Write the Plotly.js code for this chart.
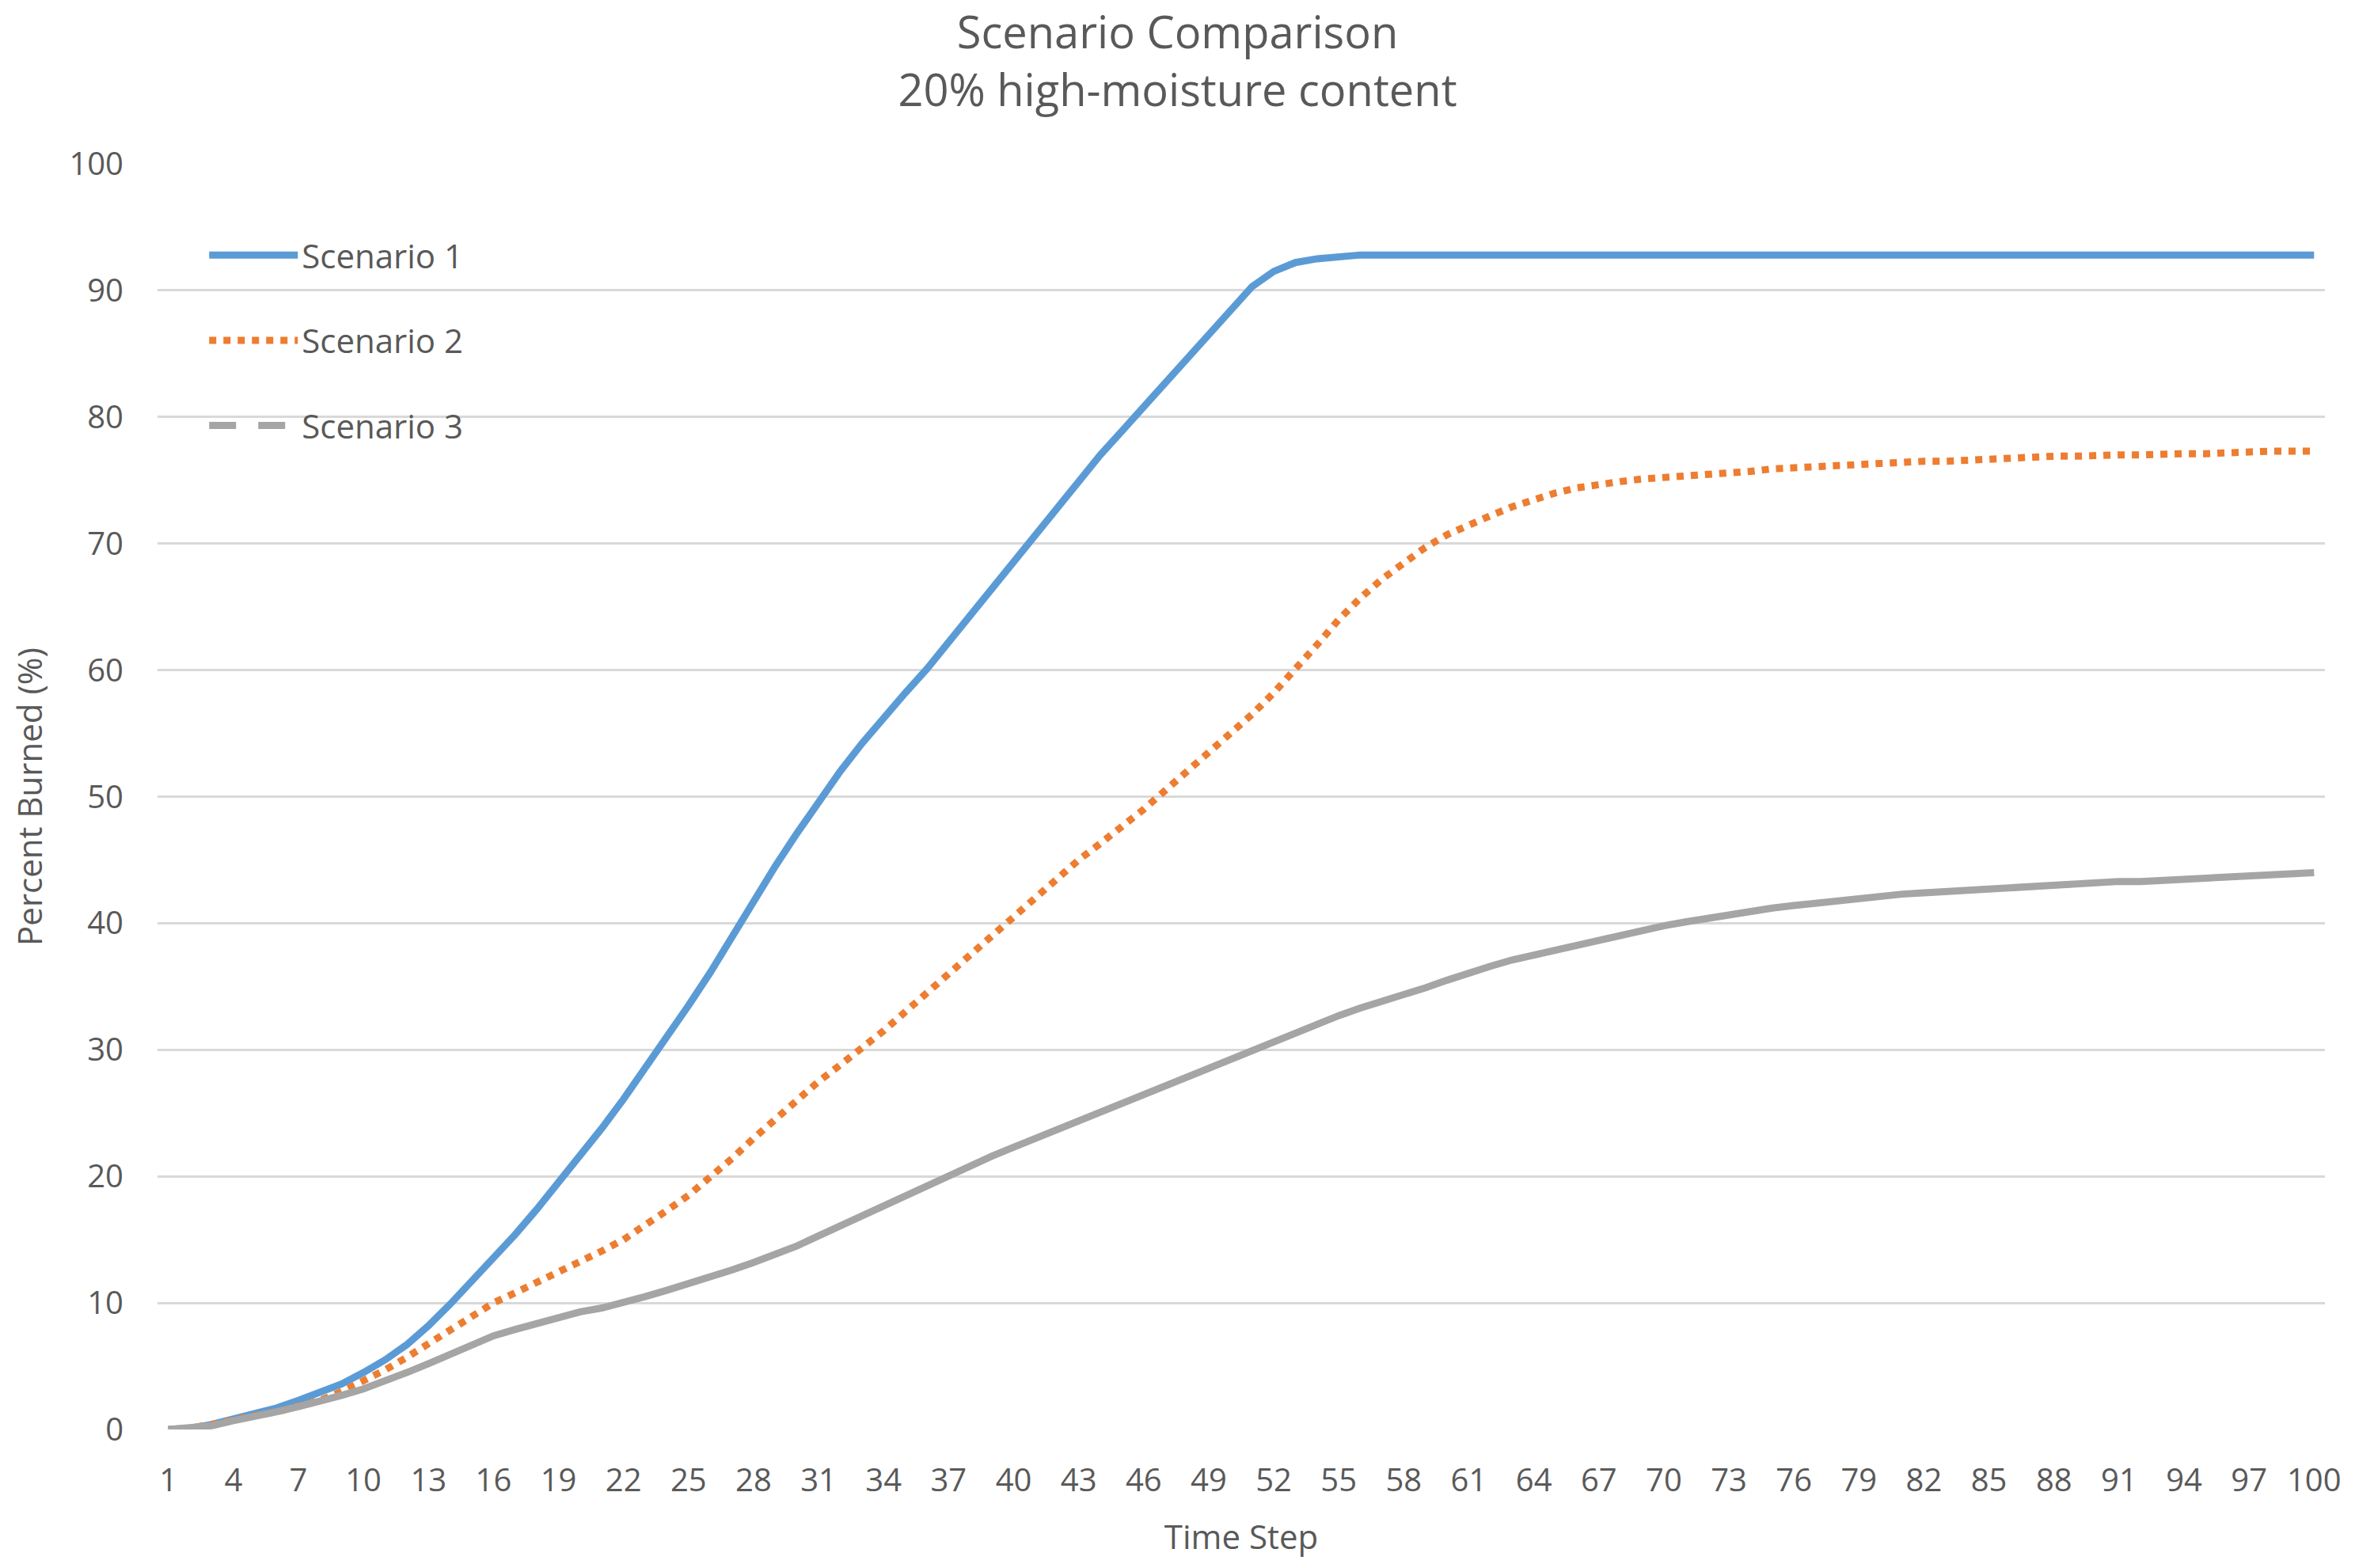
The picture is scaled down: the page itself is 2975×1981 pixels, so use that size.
<!DOCTYPE html>
<html>
<head>
<meta charset="utf-8">
<script src="https://cdn.plot.ly/plotly-3.0.1.min.js"></script>
<style>
  html, body { margin: 0; padding: 0; background: #ffffff; }
  #chart { width: 2975px; height: 1981px; }
</style>
</head>
<body>
<div id="chart"></div>
<script>
// ---- Data ----
const timeSteps = [1,2,3,4,5,6,7,8,9,10,11,12,13,14,15,16,17,18,19,20,
  21,22,23,24,25,26,27,28,29,30,31,32,33,34,35,36,37,38,39,40,
  41,42,43,44,45,46,47,48,49,50,51,52,53,54,55,56,57,58,59,60,
  61,62,63,64,65,66,67,68,69,70,71,72,73,74,75,76,77,78,79,80,
  81,82,83,84,85,86,87,88,89,90,91,92,93,94,95,96,97,98,99,100];

const xTickLabels = [1,4,7,10,13,16,19,22,25,28,31,34,37,40,43,46,49,52,55,58,61,64,67,70,73,76,79,82,85,88,91,94,97,100];
const yTickLabels = [0,10,20,30,40,50,60,70,80,90,100];

const seriesNames = ['Scenario 1', 'Scenario 2', 'Scenario 3'];

const scenario1 = [0,0.1,0.4,0.8,1.2,1.7,2.3,2.9,3.6,4.5,
  5.5,6.7,8.2,9.9,11.7,13.5,15.4,17.4,19.5,21.6,
  23.8,26.1,28.5,31.0,33.5,36.1,38.9,41.8,44.5,47.1,
  49.6,52.0,54.2,56.3,58.2,60.1,62.2,64.3,66.4,68.6,
  70.8,72.9,75.0,77.0,78.9,80.8,82.7,84.6,86.6,88.6,
  90.3,91.5,92.2,92.5,92.7,92.8,92.8,92.8,92.8,92.8,
  92.8,92.8,92.8,92.8,92.8,92.8,92.8,92.8,92.8,92.8,
  92.8,92.8,92.8,92.8,92.8,92.8,92.8,92.8,92.8,92.8,
  92.8,92.8,92.8,92.8,92.8,92.8,92.8,92.8,92.8,92.8,
  92.8,92.8,92.8,92.8,92.8,92.8,92.8,92.8,92.8,92.8];

const scenario2 = [0,0.1,0.4,0.8,1.1,1.4,1.8,2.3,3.0,3.8,
  4.7,5.7,6.8,7.9,9.0,10.0,10.8,11.6,12.4,13.2,
  14.1,15.0,16.1,17.3,18.5,19.9,21.4,23.0,24.5,26.0,
  27.5,28.8,30.1,31.5,33.0,34.5,36.0,37.5,39.0,40.5,
  42.0,43.5,45.0,46.3,47.6,49.0,50.5,52.0,53.5,55.0,
  56.5,58.2,60.0,62.0,64.0,65.7,67.2,68.5,69.7,70.7,
  71.5,72.2,72.9,73.5,74.0,74.4,74.7,74.9,75.1,75.2,
  75.4,75.5,75.6,75.7,75.9,76.0,76.0,76.1,76.2,76.3,
  76.4,76.5,76.5,76.6,76.7,76.8,76.8,76.9,76.9,77.0,
  77.0,77.0,77.1,77.1,77.1,77.2,77.2,77.3,77.3,77.3];

const scenario3 = [0,0.1,0.3,0.7,1.0,1.4,1.8,2.2,2.7,3.2,
  3.8,4.5,5.2,5.9,6.7,7.4,7.9,8.4,8.9,9.3,
  9.6,10.0,10.5,11.0,11.5,12.0,12.6,13.2,13.8,14.5,
  15.3,16.1,16.9,17.7,18.5,19.2,20.0,20.8,21.6,22.3,
  23.0,23.7,24.4,25.1,25.8,26.5,27.2,27.9,28.5,29.2,
  29.9,30.6,31.3,32.0,32.7,33.3,33.8,34.3,34.9,35.5,
  36.1,36.6,37.1,37.5,37.9,38.3,38.7,39.1,39.5,39.8,
  40.1,40.4,40.7,40.9,41.2,41.4,41.6,41.8,42.0,42.1,
  42.3,42.4,42.5,42.7,42.8,42.9,42.9,43.0,43.1,43.2,
  43.3,43.3,43.4,43.5,43.5,43.6,43.7,43.8,43.9,44.0];

// ---- Styles ----
const textColor = '#595959';
const gridColor = '#d9d9d9';
const fontFamily = '"Open Sans", "Noto Sans", sans-serif';

const traces = [
  {
    x: timeSteps, y: scenario1, name: seriesNames[0], type: 'scatter', mode: 'lines',
    legendgroup: 'g1',
    line: { color: '#5b9bd5', width: 9, shape: 'linear' }
  },
  {
    x: timeSteps, y: scenario2, name: seriesNames[1], type: 'scatter', mode: 'lines',
    legendgroup: 'g2',
    line: { color: '#ed7d31', width: 9, dash: 'dot' }
  },
  {
    // plotted line of Scenario 3 (drawn solid, as in the reference plot area)
    x: timeSteps, y: scenario3, name: seriesNames[2], type: 'scatter', mode: 'lines',
    legendgroup: 'g3', showlegend: false,
    line: { color: '#a5a5a5', width: 9 }
  },
  {
    // legend key of Scenario 3 (shown dashed, as in the reference legend)
    x: [null], y: [null], name: seriesNames[2], type: 'scatter', mode: 'lines',
    legendgroup: 'g3', showlegend: true, hoverinfo: 'skip',
    line: { color: '#a5a5a5', width: 9, dash: '34px,28px' }
  }
];

const layout = {
  width: 2975,
  height: 1981,
  paper_bgcolor: '#ffffff',
  plot_bgcolor: '#ffffff',
  font: { family: fontFamily, color: textColor, size: 40 },
  margin: { l: 199, r: 38, t: 207, b: 175, pad: 0 },
  title: {
    text: 'Scenario Comparison<br>20% high-moisture content',
    font: { family: fontFamily, size: 56, color: textColor },
    x: 0.5, xanchor: 'center', xref: 'container',
    y: 0.9690, yanchor: 'middle', yref: 'container'
  },
  showlegend: true,
  legend: {
    x: 0.022, xanchor: 'left',
    y: 0.949, yanchor: 'top',
    bgcolor: 'rgba(255,255,255,0)',
    font: { family: fontFamily, size: 42, color: textColor },
    traceorder: 'grouped',
    tracegroupgap: 50,
    itemwidth: 112
  },
  xaxis: {
    range: [0.5, 100.5],
    tickmode: 'array',
    tickvals: xTickLabels,
    ticktext: xTickLabels.map(String),
    showgrid: false,
    zeroline: false,
    showline: false,
    ticks: '',
    ticklabelstandoff: 37,
    tickfont: { family: fontFamily, size: 40, color: textColor },
    title: { text: 'Time Step', font: { family: fontFamily, size: 42, color: textColor }, standoff: 32 },
    fixedrange: true
  },
  yaxis: {
    range: [0, 100],
    tickmode: 'array',
    tickvals: yTickLabels,
    ticktext: yTickLabels.map(String),
    showgrid: true,
    gridcolor: gridColor,
    gridwidth: 3,
    zeroline: false,
    showline: false,
    ticks: '',
    ticklabelstandoff: 42,
    tickfont: { family: fontFamily, size: 40, color: textColor },
    title: { text: 'Percent Burned (%)', font: { family: fontFamily, size: 42, color: textColor }, standoff: 20 },
    fixedrange: true
  }
};

Plotly.newPlot('chart', traces, layout, { displayModeBar: false, staticPlot: true });
</script>
</body>
</html>
